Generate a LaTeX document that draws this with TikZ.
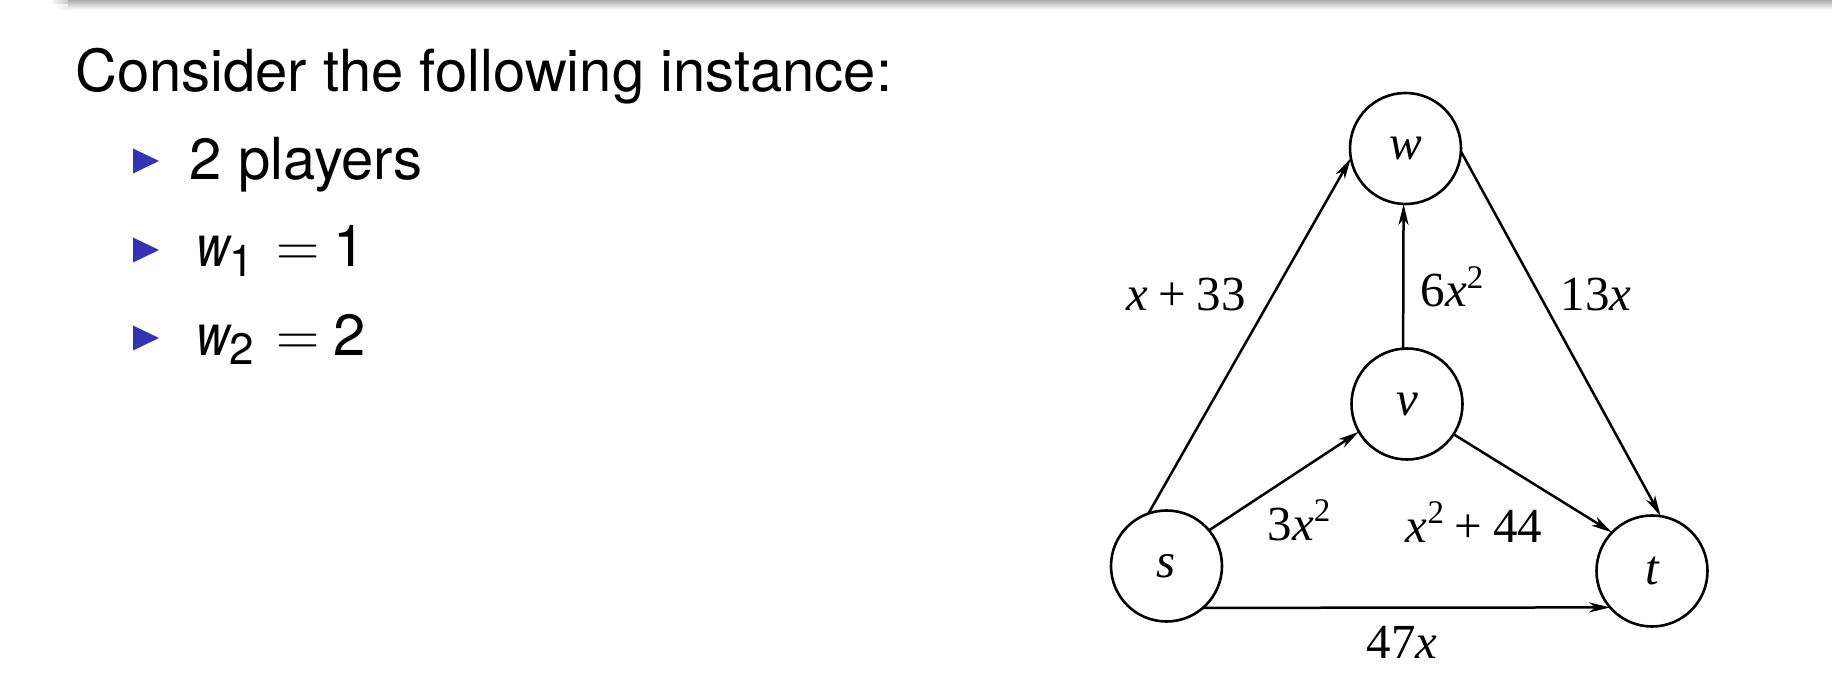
\documentclass[tikz,border=0pt]{standalone}
\usepackage{graphicx}
\usepackage{fontspec}
\setmainfont{TeX Gyre Heros}[ItalicFont={TeX Gyre Heros Italic}]
\newfontfamily\tms{Liberation Serif}[ItalicFont={Liberation Serif Italic}]
\newfontfamily\lmr{Latin Modern Roman}
\usetikzlibrary{arrows.meta}
\definecolor{bul}{RGB}{51,51,179}
\newcommand{\mysup}[1]{\raisebox{0.38em}{\fontsize{33}{33}\selectfont #1}}
\begin{document}
\begin{tikzpicture}[x=1pt,y=-1pt,
  vtx/.style={circle,draw,line width=2.6pt,minimum size=111pt,inner sep=0pt,outer sep=0pt,font=\tms\fontsize{49}{49}\selectfont\itshape},
  conn/.style={line width=2.5pt,-{Stealth[length=21pt,width=10pt,inset=6pt]}},
  lbl/.style={anchor=base,inner sep=0pt,font=\tms\fontsize{49}{49}\selectfont},
  txt/.style={anchor=base west,inner sep=0pt,font=\fontsize{58}{70}\selectfont}]
\useasboundingbox (0,0) rectangle (1832,700);
% top shadow
\shade[top color=black!32, bottom color=white] (68,0) rectangle (1832,10);
\shade[left color=white, right color=black!22] (50,0) rectangle (68,5);
\shade[left color=white, right color=black!8] (54,5) rectangle (68,10);
% text
\node[txt] (title) at (75,92) {Consider the following instance:};
\fill[bul] (133,148.5) -- (159,161) -- (133,173.5) -- cycle;
\fill[bul] (133,237.5) -- (159,250) -- (133,262.5) -- cycle;
\fill[bul] (133,325.5) -- (159,338) -- (133,350.5) -- cycle;
\node[txt] (b1) at (189.5,180) {2 players};
\node[txt] (b2) at (196,267) {\scalebox{0.8}[1]{\itshape w}\raisebox{-10pt}{\fontsize{44}{44}\selectfont 1}\hspace{22pt}{\lmr\fontsize{60}{60}\selectfont =}\hspace{14.6pt}1};
\node[txt] (b3) at (196,356) {\scalebox{0.8}[1]{\itshape w}\raisebox{-9pt}{\fontsize{44}{44}\selectfont 2}\hspace{22pt}{\lmr\fontsize{60}{60}\selectfont =}\hspace{14.6pt}2};
% graph
\node[vtx] (w) at (1405.5,148.5) {w};
\node[vtx] (v) at (1407,404) {v};
\node[vtx] (s) at (1166.5,566) {s};
\node[vtx] (t) at (1652,571) {t};
\draw[conn] (s.109) -- (w.190);
\draw[conn] (s.40) -- (v.210);
\draw[conn] (v.94) -- (w.268);
\draw[conn] (w.-3) -- (t.81);
\draw[conn] (v.-33) -- (t.136);
\draw[conn] (s.-49) -- (t.221);
% labels
\node[lbl] (l1) at (1186,311) {\textit{x}\hspace{0.22em}+\hspace{0.22em}33};
\node[lbl] (l2) at (1452,307) {6\textit{x}\mysup{2}};
\node[lbl] (l3) at (1596,311) {13\textit{x}};
\node[lbl] (l4) at (1299,540) {3\textit{x}\mysup{2}};
\node[lbl] (l5) at (1474,542) {\textit{x}\mysup{2}\hspace{0.22em}+\hspace{0.22em}44};
\node[lbl] (l6) at (1402,658) {47\textit{x}};
\end{tikzpicture}
\end{document}
